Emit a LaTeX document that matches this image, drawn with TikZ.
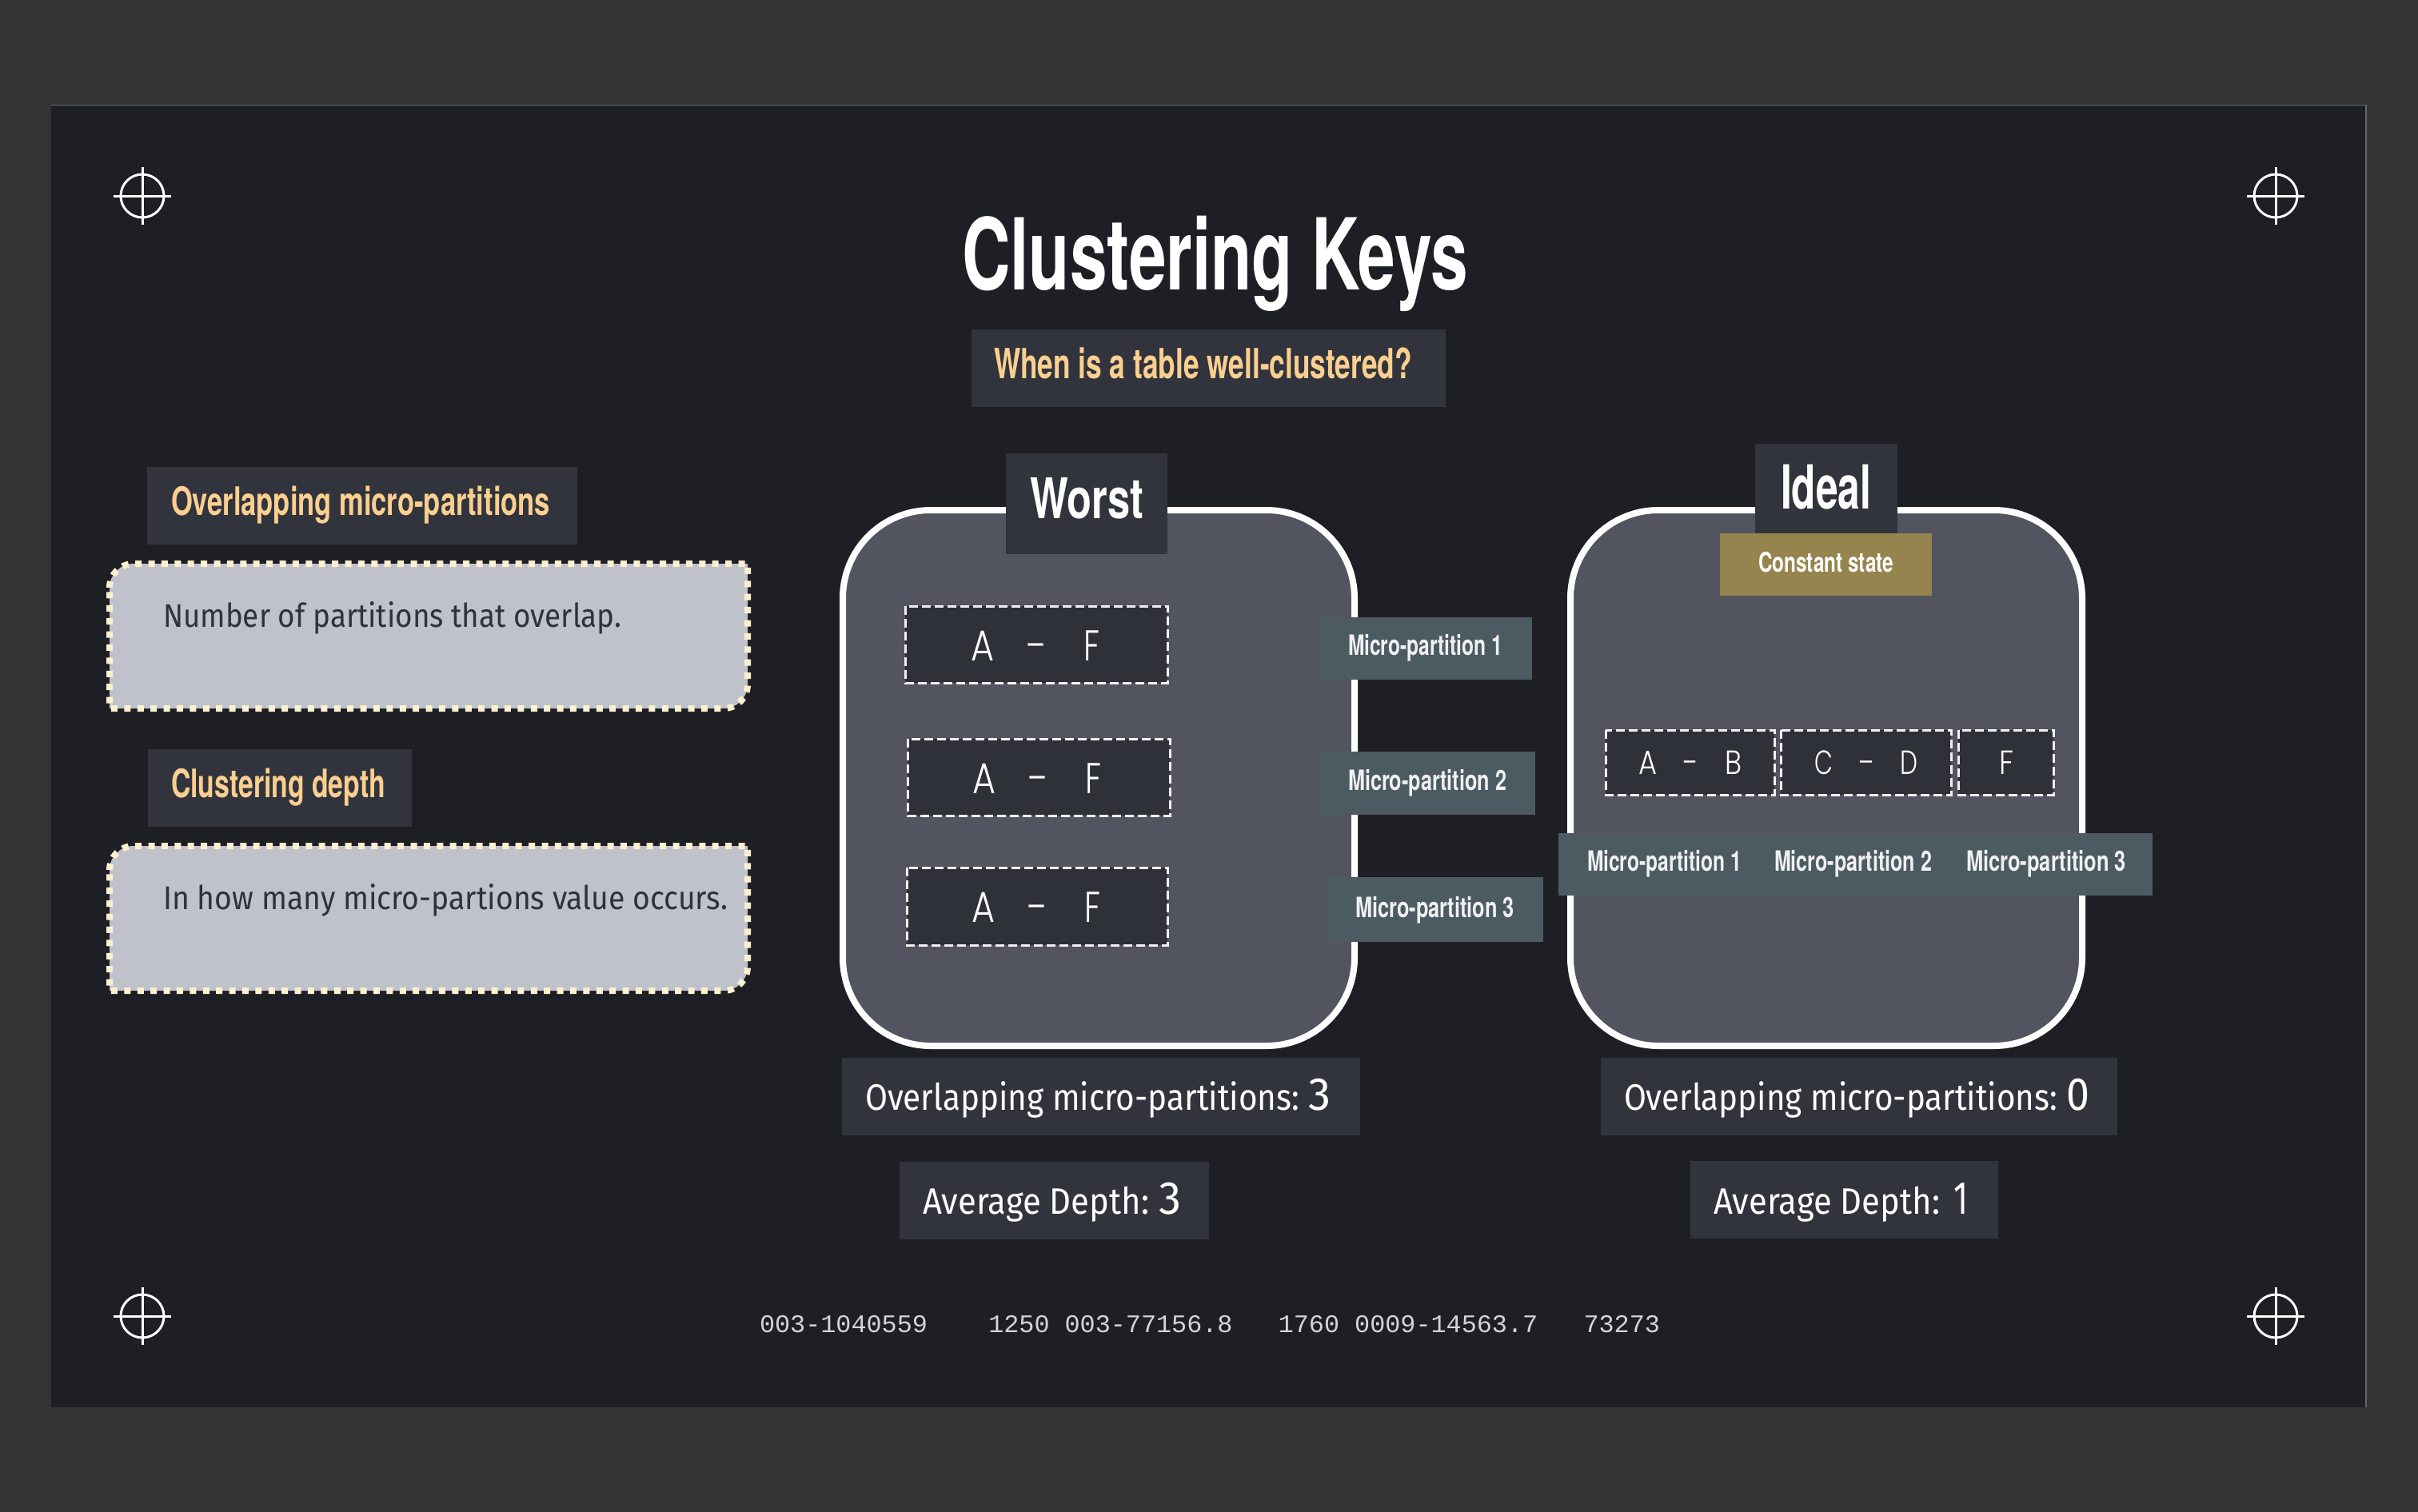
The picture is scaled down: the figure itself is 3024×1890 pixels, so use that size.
\documentclass[tikz,border=0pt]{standalone}
\usepackage{fontspec}
\usepackage{graphicx}
\setmainfont{Fira Sans}
\newfontfamily\tk{TeX Gyre Heros}
\newfontfamily\thinf{Poppins Light}
\setmonofont{Liberation Mono}
\newdimen\pxu \pxu=0.5pt
\definecolor{outerbg}{HTML}{333333}
\definecolor{slidebg}{HTML}{1E1F24}
\definecolor{slideedge}{HTML}{66676A}
\definecolor{labelbg}{HTML}{31343C}
\definecolor{panelbg}{HTML}{52545F}
\definecolor{rangebg}{HTML}{2F3138}
\definecolor{tealbg}{HTML}{4B5B61}
\definecolor{goldbg}{HTML}{96844F}
\definecolor{peach}{HTML}{FACF90}
\definecolor{cream}{HTML}{FBF0CF}
\definecolor{notebg}{HTML}{BFC2CB}
\definecolor{inktext}{HTML}{2F323B}
\definecolor{softwhite}{HTML}{F0F0F2}
\definecolor{foottext}{HTML}{D4D5D7}
\newcommand{\fs}[1]{\fontsize{#1}{#1}\selectfont}
\newcommand{\tl}[6]{\node[txt,text=#5] (#1) at (#2,#3) {\resizebox{#4\pxu}{\height}{#6}};}
\newcommand{\rg}[3]{\resizebox{#1\pxu}{\height}{\thinf\fs{#3}#2}}
\newcommand{\crosshair}[2]{%
  \draw[regmark] (#1,#2) circle[radius=13.5pt];
  \draw[regmark] (#1-36,#2) -- (#1+36,#2);
  \draw[regmark] (#1,#2-36) -- (#1,#2+36);}
\newcommand{\notebx}[2]{%
  \draw[notebox] (137,#1+30) arc[start angle=180,end angle=90,radius=15pt] -- (935,#1)
    -- (935,#2-30) arc[start angle=0,end angle=-90,radius=15pt] -- (137,#2) -- cycle;}
\tikzset{
  txt/.style={inner sep=0pt,outer sep=0pt,anchor=base west},
  regmark/.style={draw=white,line width=1.5pt},
  notebox/.style={draw=cream,fill=notebg,line width=4pt,dash pattern=on 4pt off 4.2pt},
  panel/.style={draw=white,fill=panelbg,line width=4pt,rounded corners=55pt},
  rangebox/.style={draw=softwhite,fill=rangebg,line width=1.5pt,dash pattern=on 5.5pt off 2.5pt},
}
\begin{document}
\begin{tikzpicture}[x=0.5pt,y=-0.5pt]
\useasboundingbox (0,0) rectangle (3024,1890);
\fill[outerbg] (-10,-10) rectangle (3034,1900);
\fill[slidebg] (64,131) rectangle (2959,1760);
\draw[slideedge,line width=0.75pt] (64,131.5) -- (2959,131.5) -- (2959,1760);

\crosshair{178}{245}\crosshair{2846}{245}\crosshair{178}{1646}\crosshair{2846}{1646}

\tl{title}{1203}{362}{633}{white}{\tk\bfseries\fs{62}Clustering Keys}
\fill[labelbg] (1215,412) rectangle (1808,509);
\tl{sub}{1243}{473}{523}{peach}{\tk\bfseries\fs{26}When is a table well-clustered?}

\fill[labelbg] (184,584) rectangle (722,681);
\tl{h1}{214}{644}{474}{peach}{\tk\bfseries\fs{24.5}Overlapping micro-partitions}
\notebx{705}{886}
\tl{n1}{204}{784}{573}{inktext}{\fs{20.5}Number of partitions that overlap.}

\fill[labelbg] (185,937) rectangle (515,1034);
\tl{h2}{214}{997}{268}{peach}{\tk\bfseries\fs{24.5}Clustering depth}
\notebx{1058}{1239}
\tl{n2}{204}{1137}{706}{inktext}{\fs{20.5}In how many micro-partions value occurs.}

% Worst panel
\draw[panel] (1054,638) rectangle (1694,1308);
\fill[labelbg] (1258,567) rectangle (1460,693);
\tl{worst}{1288}{648}{142}{white}{\tk\bfseries\fs{35}Worst}
\draw[rangebox] (1132,758) rectangle (1460,854);
\draw[rangebox] (1135,924) rectangle (1463,1020);
\draw[rangebox] (1134,1085) rectangle (1460,1182);
\tl{r1}{1214}{826}{161}{white}{\rg{29}{A}{27}\hspace{40\pxu}\rg{24}{–}{27}\hspace{48\pxu}\rg{20}{F}{27}}
\tl{r2}{1216}{992}{161}{white}{\rg{29}{A}{27}\hspace{40\pxu}\rg{24}{–}{27}\hspace{48\pxu}\rg{20}{F}{27}}
\tl{r3}{1215}{1153}{161}{white}{\rg{29}{A}{27}\hspace{40\pxu}\rg{24}{–}{27}\hspace{48\pxu}\rg{20}{F}{27}}
\fill[tealbg] (1650,772) rectangle (1916,850);
\fill[tealbg] (1650,940) rectangle (1920,1019);
\fill[tealbg] (1661,1097) rectangle (1930,1178);
\tl{m1}{1686}{819}{193}{softwhite}{\tk\bfseries\fs{17.5}Micro-partition 1}
\tl{m2}{1686}{988}{198}{softwhite}{\tk\bfseries\fs{17.5}Micro-partition 2}
\tl{m3}{1695}{1147}{199}{softwhite}{\tk\bfseries\fs{17.5}Micro-partition 3}

% Ideal panel
\draw[panel] (1964,638) rectangle (2604,1308);
\fill[labelbg] (2195,555) rectangle (2373,667);
\tl{ideal}{2227}{636}{113}{white}{\tk\bfseries\fs{38}Ideal}
\fill[goldbg] (2151,667) rectangle (2416,744.5);
\tl{const}{2199}{715}{169}{white}{\tk\bfseries\fs{17}Constant state}
\draw[rangebox] (2008,913) rectangle (2219,994);
\draw[rangebox] (2227,913) rectangle (2440,994);
\draw[rangebox] (2449,913) rectangle (2568,994);
\tl{ab}{2049}{968}{129}{white}{\rg{23}{A}{21}\hspace{32\pxu}\rg{18}{–}{21}\hspace{35\pxu}\rg{21}{B}{21}}
\tl{cd}{2269}{968}{129}{white}{\rg{23}{C}{21}\hspace{32\pxu}\rg{19}{–}{21}\hspace{33\pxu}\rg{22}{D}{21}}
\tl{f}{2500}{968}{18}{white}{\thinf\fs{21}F}
\fill[tealbg] (1949,1042) rectangle (2692,1120);
\tl{s1}{1985}{1089}{193}{softwhite}{\tk\bfseries\fs{17.5}Micro-partition 1}
\tl{s2}{2219}{1089}{197}{softwhite}{\tk\bfseries\fs{17.5}Micro-partition 2}
\tl{s3}{2459}{1089}{200}{softwhite}{\tk\bfseries\fs{17.5}Micro-partition 3}

% stats
\fill[labelbg] (1053,1323) rectangle (1701,1420);
\tl{o1}{1082}{1388}{543}{white}{\fs{23}Overlapping micro-partitions:}
\tl{o1v}{1636}{1388}{28}{white}{\fs{29}3}
\fill[labelbg] (1125,1453) rectangle (1512,1550);
\tl{d1}{1154}{1518}{283}{white}{\fs{23}Average Depth:}
\tl{d1v}{1449}{1518}{28}{white}{\fs{29}3}
\fill[labelbg] (2002,1323) rectangle (2648,1420);
\tl{o2}{2031}{1388}{542}{white}{\fs{23}Overlapping micro-partitions:}
\tl{o2v}{2584}{1388}{29}{white}{\fs{29}0}
\fill[labelbg] (2114,1452) rectangle (2499,1549);
\tl{d2}{2143}{1518}{283}{white}{\fs{23}Average Depth:}
\tl{d2v}{2443}{1518}{18}{white}{\fs{29}1}

\tl{foot}{950}{1666}{1126}{foottext}{\ttfamily\fs{15.8}003-1040559\ \ \ \ 1250 003-77156.8\ \ \ 1760 0009-14563.7\ \ \ 73273}
\end{tikzpicture}
\end{document}
